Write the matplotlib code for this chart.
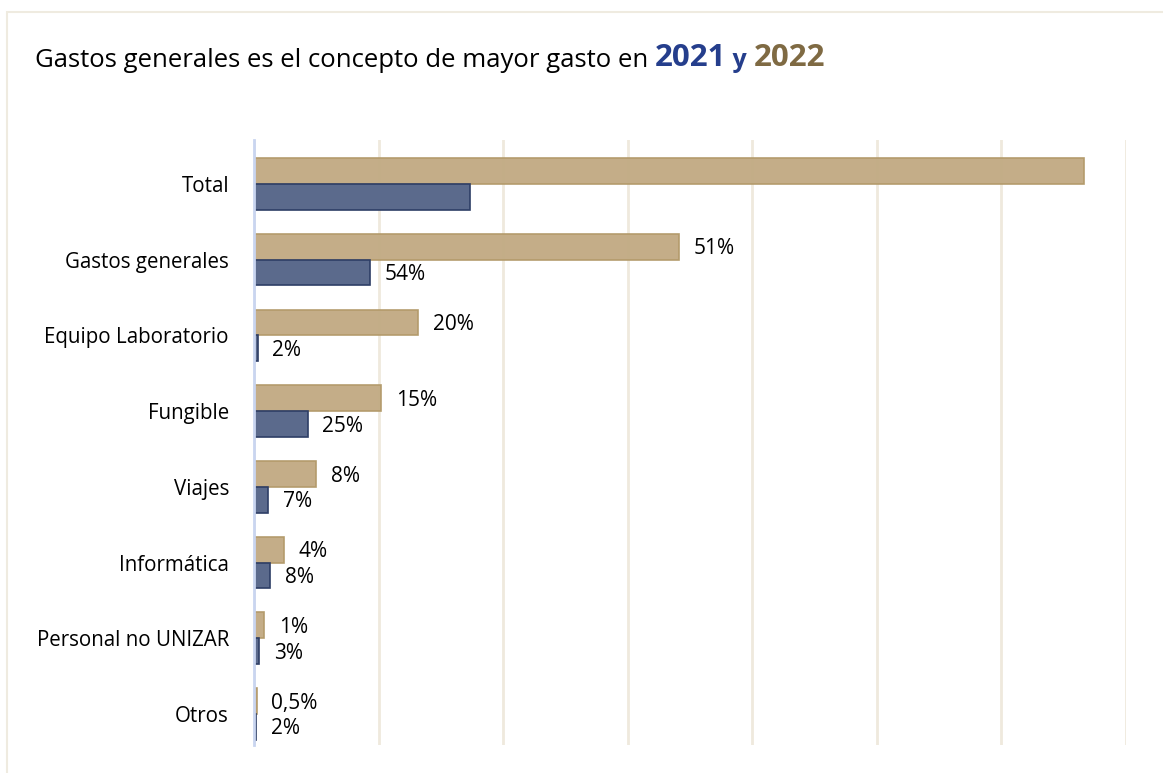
import matplotlib.pyplot as plt
from matplotlib.patches import Rectangle

# datos
categorias = ["Total", "Gastos generales", "Equipo Laboratorio", "Fungible",
              "Viajes", "Informática", "Personal no UNIZAR", "Otros"]
gasto_2022 = [6.66, 3.41, 1.32, 1.02, 0.50, 0.24, 0.083, 0.022]
gasto_2021 = [1.73, 0.93, 0.03, 0.43, 0.115, 0.13, 0.04, 0.02]
etiquetas_2022 = ["", "51%", "20%", "15%", "8%", "4%", "1%", "0,5%"]
etiquetas_2021 = ["", "54%", "2%", "25%", "7%", "8%", "3%", "2%"]

plt.rcParams['font.family'] = ['Open Sans', 'DejaVu Sans']

fig = plt.figure(figsize=(11.63, 7.73), dpi=100)
fig.patches.append(Rectangle((7 / 1163, -0.1), 1.2, 1 - 12 / 773 + 0.1,
                             transform=fig.transFigure, fill=False,
                             edgecolor="#EFEBE0", linewidth=1.5))

ax = fig.add_axes([254 / 1163, 1 - 745 / 773, (1126 - 254) / 1163, (745 - 140) / 773])

alto = 0.34
pos = list(range(len(categorias)))
pos_22 = [p - alto / 2 for p in pos]
pos_21 = [p + alto / 2 for p in pos]

ax.barh(pos_22, gasto_2022, height=alto, color="#C2AB84", edgecolor="#B39A6A",
        linewidth=1.2, alpha=0.97, zorder=3)
ax.barh(pos_21, gasto_2021, height=alto, color="#5B6A8C", edgecolor="#2E3E66",
        linewidth=1.2, zorder=3)

for y, v, t in zip(pos_22, gasto_2022, etiquetas_2022):
    if t:
        ax.annotate(t, (v, y), xytext=(10.5, -1.5), textcoords="offset points",
                    va="center", ha="left", fontsize=15)
for y, v, t in zip(pos_21, gasto_2021, etiquetas_2021):
    if t:
        ax.annotate(t, (v, y), xytext=(10.5, -1.5), textcoords="offset points",
                    va="center", ha="left", fontsize=15)

ax.set_xlim(0, 7)
ax.set_ylim(7.41, -0.58)
ax.set_xticks(range(0, 8))
ax.set_xticklabels([])
ax.grid(axis="x", color="#EFE9DD", linewidth=2, zorder=0)
ax.set_yticks(pos)
ax.set_yticklabels(categorias, fontsize=14.8)
ax.tick_params(axis="y", length=0, pad=18)
ax.tick_params(axis="x", length=0)
for lado in ["top", "right", "bottom"]:
    ax.spines[lado].set_visible(False)
ax.spines["left"].set_color("#C9D5F0")
ax.spines["left"].set_linewidth(2)
ax.spines["left"].set_zorder(4)

t1 = fig.text(35 / 1163, 1 - 67 / 773, "Gastos generales es el concepto de mayor gasto en ",
              fontsize=18.5, va="baseline", ha="left")
t2 = ax.annotate("2021", xy=(1, 0), xycoords=t1, va="bottom", ha="left",
                 fontsize=22.5, fontweight="bold", color="#253E8C")
t3 = ax.annotate(" y ", xy=(1, 0), xycoords=t2, va="bottom", ha="left",
                 fontsize=18, fontweight="bold", color="#253E8C")
ax.annotate("2022", xy=(1, 0), xycoords=t3, va="bottom", ha="left",
            fontsize=22.5, fontweight="bold", color="#7F6A43")

fig.savefig("out.png", dpi=100)
